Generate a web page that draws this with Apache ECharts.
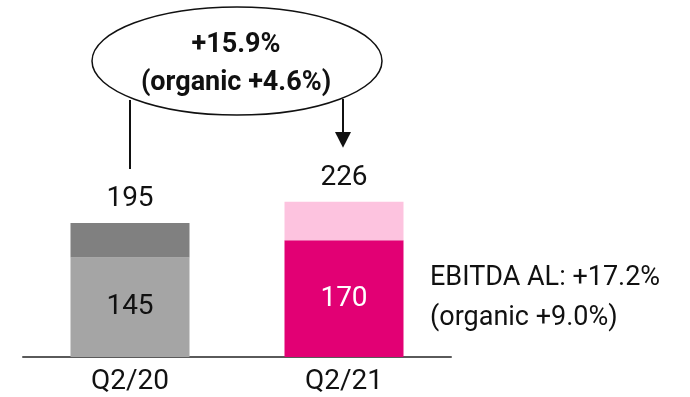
<!DOCTYPE html>
<html>
<head>
<meta charset="utf-8">
<script src="https://cdn.jsdelivr.net/npm/echarts@6/dist/echarts.min.js"></script>
<style>
  html, body { margin: 0; padding: 0; background: #fff; }
  #chart { width: 690px; height: 397px; }
</style>
</head>
<body>
<div id="chart"></div>
<script>
// data
const categories = ["Q2/20", "Q2/21"];
const baseValues = [145, 170];
const topValues = [50, 56];
const totals = [195, 226];
const baseColors = ["#a5a5a5", "#e20074"];
const topColors = ["#808080", "#fdc3df"];
const baseLabelColors = ["#111", "#fff"];
const growthText = ["+15.9%", "(organic +4.6%)"];
const sideNote = ["EBITDA AL: +17.2%", "(organic +9.0%)"];

const FONT = "Roboto";
const chart = echarts.init(document.getElementById("chart"));

const option = {
  animation: false,
  textStyle: { fontFamily: FONT },
  grid: { left: 23, right: 239, top: 151, bottom: 40 },
  xAxis: {
    type: "category",
    data: categories,
    axisTick: { show: false },
    axisLine: { lineStyle: { color: "#5a5a5a", width: 2 } },
    axisLabel: { color: "#111", fontSize: 28, margin: 11, fontFamily: FONT },
  },
  yAxis: {
    type: "value",
    min: 0,
    max: 300,
    show: false,
    splitLine: { show: false },
  },
  series: [
    {
      type: "bar",
      stack: "a",
      barWidth: 119,
      data: baseValues.map((v, i) => ({
        value: v,
        itemStyle: { color: baseColors[i] },
        label: { color: baseLabelColors[i] },
      })),
      label: {
        show: true,
        position: "inside",
        fontSize: 28,
        fontFamily: FONT,
      },
    },
    {
      type: "bar",
      stack: "a",
      barWidth: 119,
      data: topValues.map((v, i) => ({
        value: v,
        itemStyle: { color: topColors[i] },
      })),
      label: {
        show: true,
        position: "top",
        distance: 10,
        color: "#111",
        fontSize: 28,
        fontFamily: FONT,
        formatter: (p) => String(totals[p.dataIndex]),
      },
    },
  ],
};
chart.setOption(option);

// annotations: ellipse with growth, connector lines, side note
const x0 = chart.convertToPixel({ xAxisIndex: 0 }, categories[0]);
const x1 = chart.convertToPixel({ xAxisIndex: 0 }, categories[1]) - 1;
const yTot0 = chart.convertToPixel({ yAxisIndex: 0 }, totals[0]);
const yTot1 = chart.convertToPixel({ yAxisIndex: 0 }, totals[1]);

chart.setOption({
  graphic: [
    {
      type: "ellipse",
      shape: { cx: 237, cy: 61, rx: 145, ry: 54 },
      style: { fill: "#fff", stroke: "#111", lineWidth: 1.5 },
      z: 10,
    },
    {
      type: "text",
      x: 236,
      y: 45,
      style: {
        text: growthText[0],
        font: "bold 27px " + FONT,
        fill: "#111",
        align: "center",
        verticalAlign: "middle",
      },
      z: 11,
    },
    {
      type: "text",
      x: 236,
      y: 83,
      style: {
        text: growthText[1],
        font: "bold 27px " + FONT,
        fill: "#111",
        align: "center",
        verticalAlign: "middle",
      },
      z: 11,
    },
    {
      type: "line",
      shape: { x1: x0, y1: 100, x2: x0, y2: yTot0 - 54 },
      style: { stroke: "#111", lineWidth: 2 },
      z: 9,
    },
    {
      type: "line",
      shape: { x1: x1, y1: 99, x2: x1, y2: 134 },
      style: { stroke: "#111", lineWidth: 2 },
      z: 9,
    },
    {
      type: "polygon",
      shape: { points: [[x1 - 8, 132], [x1 + 8, 132], [x1, yTot1 - 54]] },
      style: { fill: "#111" },
      z: 9,
    },
    {
      type: "text",
      x: 430,
      y: 278,
      style: {
        text: sideNote[0],
        font: "27px " + FONT,
        fill: "#111",
        verticalAlign: "middle",
      },
    },
    {
      type: "text",
      x: 430,
      y: 318,
      style: {
        text: sideNote[1],
        font: "27px " + FONT,
        fill: "#111",
        verticalAlign: "middle",
      },
    },
  ],
});
</script>
</body>
</html>
